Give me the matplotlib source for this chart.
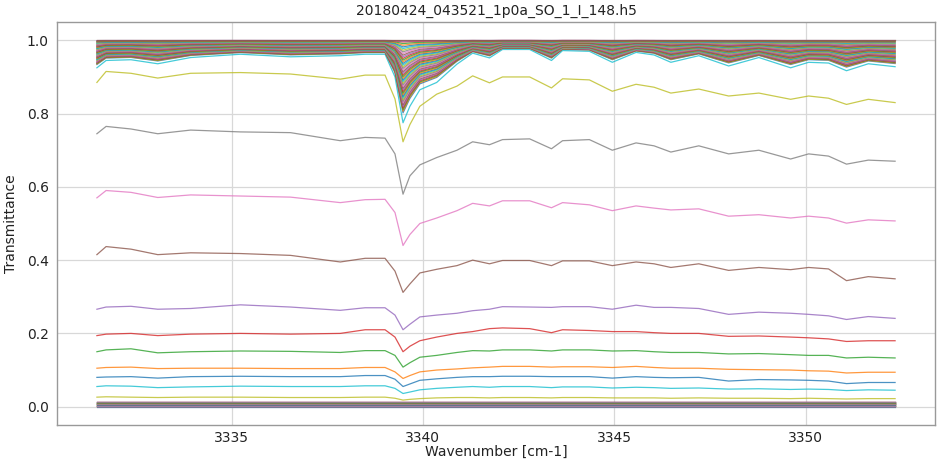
import numpy as np
import matplotlib
matplotlib.use("Agg")
import matplotlib.pyplot as plt

title = "20180424_043521_1p0a_SO_1_I_148.h5"

wavenumber = [3331.48, 3331.72, 3332.37, 3333.07, 3333.93, 3335.23, 3336.54, 3337.84,
              3338.49, 3339.01, 3339.27, 3339.48, 3339.66, 3339.92, 3340.36, 3340.89,
              3341.30, 3341.74, 3342.08, 3342.79, 3343.36, 3343.65, 3344.35, 3344.95,
              3345.57, 3346.04, 3346.48, 3347.21, 3347.99, 3348.78, 3349.61, 3350.08,
              3350.60, 3351.07, 3351.64, 3352.34]

# near-zero spectra (deep in atmosphere), continuum levels
bottom_levels = [0.000, 0.001, 0.001, 0.002, 0.002, 0.003, 0.003, 0.004, 0.004, 0.005,
                 0.005, 0.006, 0.006, 0.007, 0.007, 0.008, 0.008, 0.009, 0.009, 0.010,
                 0.010, 0.011, 0.011, 0.012, 0.012, 0.013, 0.013, 0.014]

t_025 = [0.026, 0.027, 0.026, 0.025, 0.026, 0.026, 0.025, 0.025, 0.026, 0.026, 0.023, 0.018,
         0.020, 0.022, 0.024, 0.025, 0.025, 0.024, 0.025, 0.025, 0.024, 0.025, 0.025, 0.024,
         0.024, 0.024, 0.023, 0.024, 0.023, 0.023, 0.022, 0.023, 0.022, 0.021, 0.022, 0.022]
t_050 = [0.055, 0.057, 0.056, 0.052, 0.054, 0.056, 0.055, 0.055, 0.057, 0.057, 0.050, 0.036,
         0.040, 0.046, 0.050, 0.053, 0.055, 0.053, 0.055, 0.055, 0.052, 0.054, 0.054, 0.051,
         0.053, 0.052, 0.050, 0.051, 0.048, 0.049, 0.047, 0.048, 0.047, 0.044, 0.046, 0.045]
t_080 = [0.080, 0.081, 0.082, 0.078, 0.082, 0.083, 0.082, 0.082, 0.085, 0.085, 0.075, 0.055,
         0.062, 0.072, 0.076, 0.080, 0.082, 0.082, 0.083, 0.083, 0.082, 0.082, 0.082, 0.078,
         0.082, 0.080, 0.079, 0.080, 0.070, 0.074, 0.073, 0.072, 0.070, 0.063, 0.066, 0.066]
t_100 = [0.105, 0.107, 0.108, 0.104, 0.105, 0.105, 0.104, 0.104, 0.107, 0.107, 0.095, 0.077,
         0.085, 0.095, 0.100, 0.103, 0.106, 0.108, 0.110, 0.110, 0.108, 0.109, 0.109, 0.107,
         0.110, 0.107, 0.105, 0.105, 0.102, 0.101, 0.100, 0.098, 0.097, 0.092, 0.094, 0.094]
t_150 = [0.150, 0.155, 0.158, 0.147, 0.150, 0.152, 0.151, 0.148, 0.153, 0.153, 0.140, 0.108,
         0.120, 0.135, 0.140, 0.148, 0.153, 0.152, 0.155, 0.155, 0.152, 0.155, 0.155, 0.152,
         0.153, 0.150, 0.148, 0.148, 0.144, 0.145, 0.142, 0.140, 0.140, 0.133, 0.135, 0.133]
t_200 = [0.194, 0.198, 0.200, 0.194, 0.198, 0.200, 0.198, 0.200, 0.210, 0.210, 0.190, 0.150,
         0.165, 0.180, 0.190, 0.200, 0.205, 0.213, 0.215, 0.213, 0.202, 0.210, 0.208, 0.205,
         0.205, 0.202, 0.200, 0.200, 0.192, 0.193, 0.190, 0.188, 0.185, 0.178, 0.180, 0.180]
t_270 = [0.266, 0.272, 0.274, 0.266, 0.268, 0.278, 0.272, 0.263, 0.270, 0.270, 0.250, 0.210,
         0.225, 0.245, 0.250, 0.255, 0.262, 0.266, 0.273, 0.272, 0.271, 0.273, 0.273, 0.266,
         0.277, 0.271, 0.271, 0.268, 0.252, 0.258, 0.255, 0.252, 0.248, 0.238, 0.246, 0.241]
t_420 = [0.415, 0.437, 0.430, 0.415, 0.420, 0.418, 0.413, 0.395, 0.405, 0.405, 0.370, 0.312,
         0.335, 0.365, 0.375, 0.385, 0.400, 0.390, 0.399, 0.399, 0.385, 0.398, 0.398, 0.385,
         0.395, 0.390, 0.380, 0.390, 0.372, 0.380, 0.374, 0.380, 0.376, 0.344, 0.355, 0.349]
t_580 = [0.570, 0.590, 0.585, 0.571, 0.578, 0.575, 0.572, 0.557, 0.565, 0.566, 0.530, 0.440,
         0.470, 0.500, 0.515, 0.535, 0.555, 0.548, 0.562, 0.562, 0.543, 0.557, 0.551, 0.535,
         0.548, 0.542, 0.537, 0.540, 0.520, 0.524, 0.515, 0.520, 0.515, 0.501, 0.510, 0.507]
t_750 = [0.745, 0.765, 0.758, 0.745, 0.755, 0.750, 0.748, 0.726, 0.735, 0.733, 0.690, 0.580,
         0.630, 0.660, 0.680, 0.700, 0.723, 0.715, 0.729, 0.731, 0.704, 0.726, 0.729, 0.700,
         0.720, 0.712, 0.695, 0.712, 0.690, 0.700, 0.676, 0.690, 0.684, 0.662, 0.673, 0.670]
t_900 = [0.885, 0.915, 0.910, 0.897, 0.910, 0.912, 0.908, 0.894, 0.905, 0.905, 0.840, 0.723,
         0.770, 0.820, 0.853, 0.875, 0.903, 0.884, 0.900, 0.900, 0.870, 0.895, 0.892, 0.861,
         0.880, 0.872, 0.856, 0.867, 0.848, 0.856, 0.839, 0.848, 0.842, 0.825, 0.839, 0.830]
t_950 = [0.925, 0.945, 0.947, 0.936, 0.953, 0.962, 0.955, 0.958, 0.962, 0.962, 0.900, 0.775,
         0.820, 0.865, 0.885, 0.935, 0.965, 0.952, 0.975, 0.975, 0.945, 0.972, 0.970, 0.940,
         0.967, 0.960, 0.940, 0.958, 0.930, 0.953, 0.925, 0.940, 0.938, 0.917, 0.936, 0.928]

# spectra above 0.95: fraction of the 0.95-spectrum absorption still present
top_fractions = [0.88, 0.86, 0.84, 0.82, 0.80, 0.78, 0.76, 0.74, 0.72, 0.70,
                 0.68, 0.66, 0.64, 0.62, 0.60, 0.58, 0.56, 0.54, 0.52, 0.50,
                 0.48, 0.46, 0.44, 0.42, 0.40, 0.38, 0.36, 0.34, 0.32, 0.30,
                 0.28, 0.26, 0.24, 0.22, 0.20, 0.18, 0.16, 0.14, 0.12, 0.10,
                 0.08, 0.06, 0.04, 0.02, 0.01, 0.00]

fig = plt.figure(figsize=(9.4, 4.63), dpi=100)
ax = fig.add_axes([57 / 940, 38 / 463, 878 / 940, 403 / 463])

wn = np.array(wavenumber)
lw = 0.9
al = 0.8
for lvl in bottom_levels:
    ax.plot(wn, np.full(wn.shape, lvl), lw=lw, alpha=al)
for spec in [t_025, t_050, t_080, t_100, t_150, t_200, t_270, t_420, t_580, t_750, t_900, t_950]:
    ax.plot(wn, spec, lw=lw, alpha=al)
ref = np.array(t_950)
for f in top_fractions:
    ax.plot(wn, 1.0 - f * (1.0 - ref), lw=lw, alpha=al)

ax.set_title(title, fontsize=10, color="#222222", pad=5)
ax.set_xlabel("Wavenumber [cm-1]", fontsize=10, color="#222222", labelpad=0)
ax.set_ylabel("Transmittance", fontsize=10, color="#222222", labelpad=6)
ax.set_xticks([3335, 3340, 3345, 3350])
ax.set_yticks([0.0, 0.2, 0.4, 0.6, 0.8, 1.0])
ax.tick_params(axis="x", length=0, labelsize=10, labelcolor="#222222", pad=4)
ax.tick_params(axis="y", length=0, labelsize=10, labelcolor="#222222", pad=6)
ax.grid(True, color="#d8d8d8", lw=0.9)
ax.set_axisbelow(True)
for s in ax.spines.values():
    s.set_color("#999999")
    s.set_linewidth(1.0)

fig.savefig("out.png", dpi=100)
